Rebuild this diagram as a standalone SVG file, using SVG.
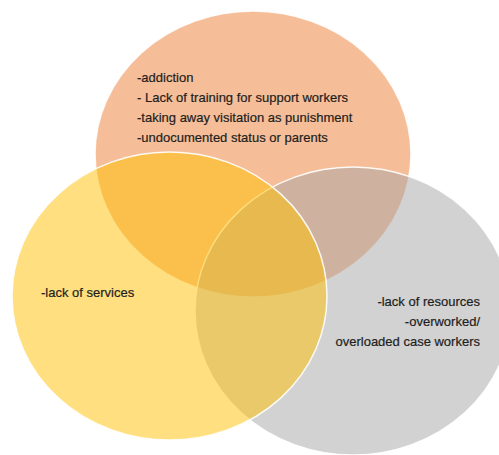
<svg xmlns="http://www.w3.org/2000/svg" width="499" height="455" viewBox="0 0 499 455">
  <style>
    .c { fill-opacity: 0.5; stroke: #ffffff; stroke-width: 1.5; stroke-opacity: 0.9; }
    .t { font-family: "Liberation Sans", Arial, sans-serif; font-size: 13px; fill: #1e1e1e; stroke: #1e1e1e; stroke-width: 0.2; }
    .r { text-anchor: end; }
  </style>
  <rect width="499" height="455" fill="#ffffff"/>
  <g id="orange">
    <ellipse class="c" cx="253" cy="154" rx="158" ry="143" fill="#ED7D31"/>
  </g>
  <g id="grey">
    <ellipse class="c" cx="353" cy="311" rx="158" ry="144" fill="#A5A5A5"/>
  </g>
  <g id="yellow">
    <ellipse class="c" cx="169.5" cy="296" rx="157.5" ry="144" fill="#FFC000"/>
  </g>
  <g id="orange-text">
    <text class="t" x="137" y="82">-addiction</text>
    <text class="t" x="137" y="102">- Lack of training for support workers</text>
    <text class="t" x="137" y="122">-taking away visitation as punishment</text>
    <text class="t" x="137" y="142">-undocumented status or parents</text>
  </g>
  <g id="yellow-text">
    <text class="t" x="41" y="297">-lack of services</text>
  </g>
  <g id="grey-text">
    <text class="t r" x="480" y="306">-lack of resources</text>
    <text class="t r" x="480" y="326">-overworked/</text>
    <text class="t r" x="480" y="346">overloaded case workers</text>
  </g>
  <g id="connectors"></g>
</svg>
